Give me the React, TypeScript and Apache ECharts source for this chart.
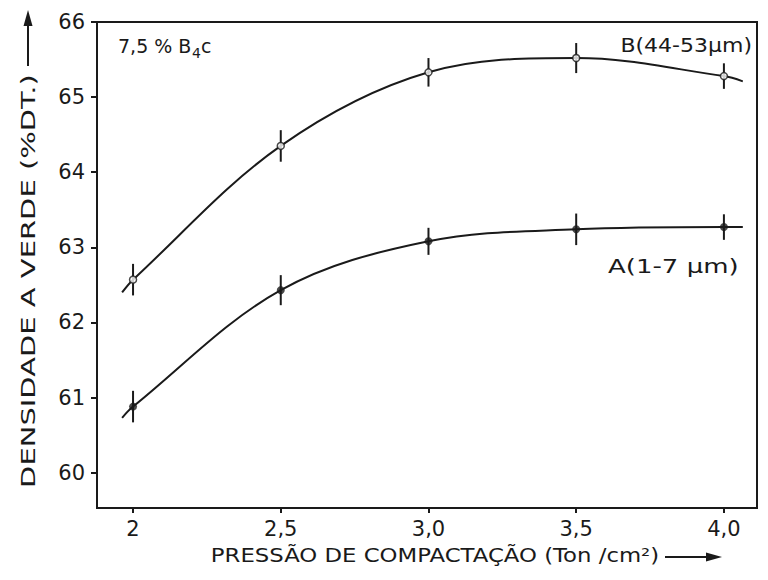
import React, { useEffect, useRef } from "react";
import * as echarts from "echarts";

// Data
const pressure = [2, 2.5, 3.0, 3.5, 4.0];
const densB = [62.57, 64.35, 65.33, 65.52, 65.28];
const densA = [60.88, 62.43, 63.08, 63.24, 63.27];
const errB = [0.21, 0.21, 0.19, 0.2, 0.17];
const errA = [0.21, 0.2, 0.18, 0.21, 0.17];
// hand-drawn curve ends (x, y)
const curveStartB = [1.963, 62.4];
const curveEndB = [4.064, 65.21];
const curveStartA = [1.963, 60.73];
const curveEndA = [4.064, 63.27];

const xTickValues = [2, 2.5, 3.0, 3.5, 4.0];
const xTickLabels = ["2", "2,5", "3,0", "3,5", "4,0"];
const yTickValues = [60, 61, 62, 63, 64, 65, 66];
const yTickLabels = ["60", "61", "62", "63", "64", "65", "66"];

const FONT = "DejaVu Sans";
const INK = "#1a1a1a";

export default function App() {
  const ref = useRef<HTMLDivElement>(null);
  useEffect(() => {
    if (!ref.current) return;
    const chart = echarts.init(ref.current, null, { renderer: "svg" });

    const curveB = [curveStartB, ...pressure.map((p, i) => [p, densB[i]]), curveEndB];
    const curveA = [curveStartA, ...pressure.map((p, i) => [p, densA[i]]), curveEndA];
    const errDataB = pressure.map((p, i) => [p, densB[i] - errB[i], densB[i] + errB[i]]);
    const errDataA = pressure.map((p, i) => [p, densA[i] - errA[i], densA[i] + errA[i]]);

    const errRender = (params: any, api: any) => {
      const x = api.value(0);
      const p1 = api.coord([x, api.value(1)]);
      const p2 = api.coord([x, api.value(2)]);
      return {
        type: "line",
        shape: { x1: p1[0], y1: p1[1], x2: p2[0], y2: p2[1] },
        style: { stroke: INK, lineWidth: 2 },
      };
    };

    const txt = (x: number, y: number, text: string, size: number, extra: any = {}) => ({
      type: "text",
      x,
      y,
      ...extra,
      style: {
        text,
        fill: INK,
        fontFamily: FONT,
        fontSize: size,
        textAlign: "left",
        textVerticalAlign: "middle",
        ...(extra.style || {}),
      },
    });

    chart.setOption({
      animation: false,
      backgroundColor: "#ffffff",
      grid: {
        left: 97,
        top: 22,
        right: 11,
        bottom: 72,
        show: true,
        borderColor: INK,
        borderWidth: 2,
        backgroundColor: "transparent",
      },
      xAxis: {
        type: "value",
        min: 1.878,
        max: 4.112,
        splitLine: { show: false },
        axisLine: { show: true, lineStyle: { color: INK, width: 2 } },
        axisTick: {
          show: true,
          customValues: xTickValues,
          length: 5,
          lineStyle: { color: INK, width: 2 },
        },
        axisLabel: {
          customValues: xTickValues,
          margin: 10,
          color: INK,
          fontFamily: FONT,
          fontSize: 21,
          formatter: (v: number) => {
            const i = xTickValues.findIndex((t) => Math.abs(t - v) < 1e-6);
            return i >= 0 ? xTickLabels[i] : "";
          },
        },
      },
      yAxis: {
        type: "value",
        min: 59.53,
        max: 66,
        splitLine: { show: false },
        axisLine: { show: true, lineStyle: { color: INK, width: 2 } },
        axisTick: {
          show: true,
          customValues: yTickValues,
          length: 6,
          lineStyle: { color: INK, width: 2 },
        },
        axisLabel: {
          customValues: yTickValues,
          margin: 12,
          color: INK,
          fontFamily: FONT,
          fontSize: 21,
          formatter: (v: number) => {
            const i = yTickValues.findIndex((t) => Math.abs(t - v) < 1e-6);
            return i >= 0 ? yTickLabels[i] : "";
          },
        },
      },
      series: [
        {
          type: "line",
          data: curveB,
          smooth: 0.35,
          showSymbol: false,
          lineStyle: { color: INK, width: 2 },
          z: 2,
        },
        {
          type: "line",
          data: curveA,
          smooth: 0.35,
          showSymbol: false,
          lineStyle: { color: INK, width: 2 },
          z: 2,
        },
        {
          type: "custom",
          data: errDataB,
          encode: { x: 0, y: [1, 2] },
          renderItem: errRender,
          z: 3,
        },
        {
          type: "custom",
          data: errDataA,
          encode: { x: 0, y: [1, 2] },
          renderItem: errRender,
          z: 3,
        },
        {
          type: "scatter",
          data: pressure.map((p, i) => [p, densB[i]]),
          symbol: "circle",
          symbolSize: 7,
          itemStyle: { color: "#ffffff", borderColor: INK, borderWidth: 1.5 },
          z: 4,
        },
        {
          type: "scatter",
          data: pressure.map((p, i) => [p, densA[i]]),
          symbol: "circle",
          symbolSize: 8,
          itemStyle: { color: INK },
          z: 4,
        },
      ],
      graphic: [
        txt(118, 46, "7,5 % B", 19),
        txt(192, 53, "4", 14),
        txt(201, 46, "c", 19),
        {
          type: "text",
          x: 752,
          y: 45,
          scaleX: 1.1,
          style: {
            text: "B(44-53μm)",
            fill: INK,
            fontFamily: FONT,
            fontSize: 20,
            textAlign: "right",
            textVerticalAlign: "middle",
          },
        },
        {
          type: "text",
          x: 608,
          y: 266,
          scaleX: 1.3,
          style: {
            text: "A(1-7 μm)",
            fill: INK,
            fontFamily: FONT,
            fontSize: 20,
            textAlign: "left",
            textVerticalAlign: "middle",
          },
        },
        {
          type: "text",
          x: 28,
          y: 281,
          rotation: Math.PI / 2,
          scaleX: 1.45,
          style: {
            text: "DENSIDADE A VERDE (%DT.)",
            fill: INK,
            fontFamily: FONT,
            fontSize: 20,
            textAlign: "center",
            textVerticalAlign: "middle",
          },
        },
        {
          type: "line",
          shape: { x1: 28, y1: 66, x2: 28, y2: 24 },
          style: { stroke: INK, lineWidth: 2 },
        },
        {
          type: "polygon",
          shape: { points: [[28, 10], [23.5, 26], [32.5, 26]] },
          style: { fill: INK },
        },
        {
          type: "text",
          x: 435,
          y: 556,
          scaleX: 1.2,
          style: {
            text: "PRESSÃO DE COMPACTAÇÃO (Ton /cm²)",
            fill: INK,
            fontFamily: FONT,
            fontSize: 19,
            textAlign: "center",
            textVerticalAlign: "middle",
          },
        },
        {
          type: "line",
          shape: { x1: 665, y1: 557, x2: 708, y2: 557 },
          style: { stroke: INK, lineWidth: 2 },
        },
        {
          type: "polygon",
          shape: { points: [[722, 557], [706, 552.5], [706, 561.5]] },
          style: { fill: INK },
        },
      ],
    });
    return () => chart.dispose();
  }, []);
  return (
    <div
      ref={ref}
      style={{ position: "absolute", left: 0, top: 0, width: 768, height: 580 }}
    />
  );
}
